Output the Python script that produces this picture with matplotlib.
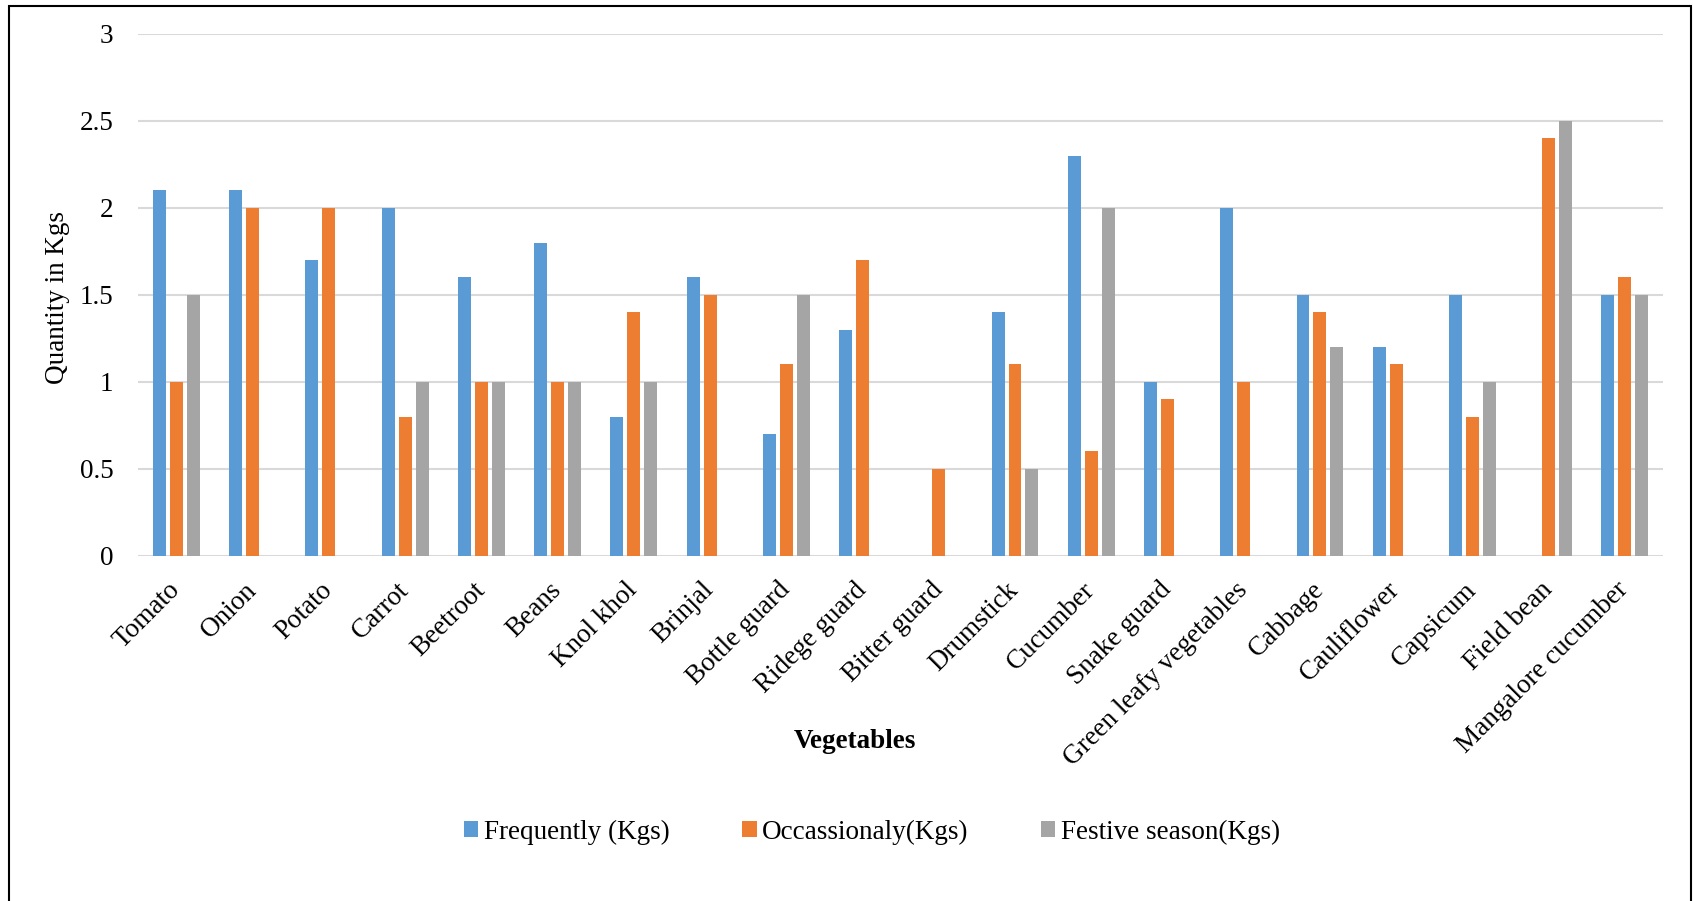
import matplotlib.pyplot as plt
import numpy as np
from matplotlib.patches import Rectangle
from matplotlib.transforms import ScaledTranslation

vegetables = [
    "Tomato", "Onion", "Potato", "Carrot", "Beetroot", "Beans", "Knol khol",
    "Brinjal", "Bottle guard", "Ridege guard", "Bitter guard", "Drumstick",
    "Cucumber", "Snake guard", "Green leafy vegetables", "Cabbage",
    "Cauliflower", "Capsicum", "Field bean", "Mangalore cucumber",
]
frequently = [2.1, 2.1, 1.7, 2.0, 1.6, 1.8, 0.8, 1.6, 0.7, 1.3,
              0.0, 1.4, 2.3, 1.0, 2.0, 1.5, 1.2, 1.5, 0.0, 1.5]
occasionally = [1.0, 2.0, 2.0, 0.8, 1.0, 1.0, 1.4, 1.5, 1.1, 1.7,
                0.5, 1.1, 0.6, 0.9, 1.0, 1.4, 1.1, 0.8, 2.4, 1.6]
festive = [1.5, 0.0, 0.0, 1.0, 1.0, 1.0, 1.0, 0.0, 1.5, 0.0,
           0.0, 0.5, 2.0, 0.0, 0.0, 1.2, 0.0, 1.0, 2.5, 1.5]
series_names = ["Frequently (Kgs)", "Occassionaly(Kgs)", "Festive season(Kgs)"]
y_ticks = [0, 0.5, 1, 1.5, 2, 2.5, 3]

colors = ["#5B9BD5", "#ED7D31", "#A5A5A5"]
plt.rcParams["font.family"] = ["Liberation Serif", "DejaVu Serif"]
FS = 19.5

W, H = 1693, 901
fig = plt.figure(figsize=(W / 100, H / 100), dpi=100)
ax = fig.add_axes([138.3 / W, 1 - 555.7 / H, (1663 - 138.3) / W, (555.7 - 33.7) / H])

x = np.arange(len(vegetables))
pitch = 0.222
width = 0.17
for i, (values, name) in enumerate(zip([frequently, occasionally, festive], series_names)):
    ax.bar(x + (i - 1) * pitch, values, width=width, color=colors[i],
           label=name, linewidth=0, zorder=3)

ax.set_xlim(-0.5, len(vegetables) - 0.5)
ax.set_ylim(0, 3)
ax.set_yticks(y_ticks)
ax.set_yticklabels([f"{t:g}" for t in y_ticks], fontsize=FS)
ax.set_xticks(x)
ax.set_xticklabels(vegetables, fontsize=FS, rotation=45, ha="right",
                   va="center", rotation_mode="anchor")
# nudge the slanted category names a little to the right
shift = ScaledTranslation(4 / 100, 0, fig.dpi_scale_trans)
for label in ax.get_xticklabels():
    label.set_transform(label.get_transform() + shift)
ax.tick_params(axis="both", length=0)
ax.tick_params(axis="y", pad=18)
ax.tick_params(axis="x", pad=22)
ax.yaxis.grid(True, color="#D9D9D9", linewidth=1.5)
ax.set_axisbelow(True)
for spine in ax.spines.values():
    spine.set_visible(False)

fig.text(57 / W, 1 - 297 / H, "Quantity in Kgs", rotation=90,
         ha="center", va="center", fontsize=FS)
fig.text(855 / W, 1 - 741 / H, "Vegetables", ha="center", va="center",
         fontsize=FS, fontweight="bold")

fig.legend(loc="center", bbox_to_anchor=(872 / W, 1 - 832 / H), ncol=3,
           frameon=False, fontsize=FS, handlelength=0.52, handleheight=0.52,
           handletextpad=0.19, columnspacing=2.7)

# outer chart border
fig.patches.append(Rectangle((9 / W, -0.01), (1690.7 - 9) / W, 1.01 - 6 / H,
                             transform=fig.transFigure, fill=False,
                             edgecolor="black", linewidth=1.5))

fig.savefig("out.png", dpi=100)
